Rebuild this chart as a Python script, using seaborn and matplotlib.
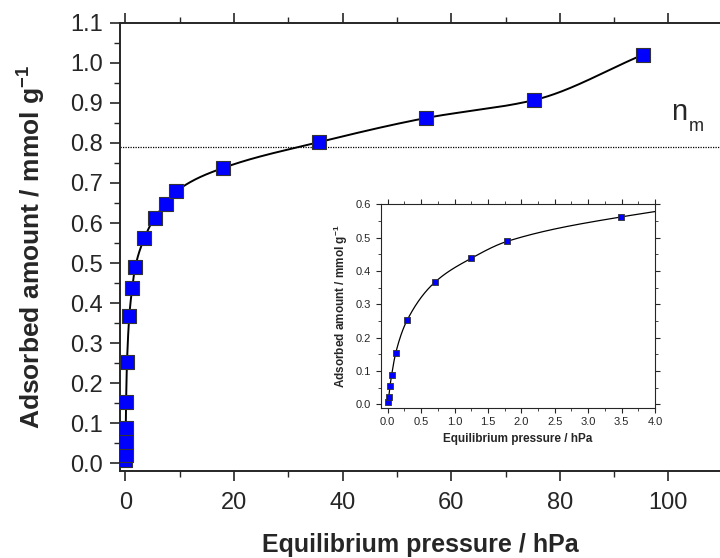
import numpy as np
import pandas as pd
import matplotlib
matplotlib.use("Agg")
import matplotlib.pyplot as plt
import seaborn as sns
from matplotlib.ticker import MultipleLocator

# ---- data ----
pressure_hpa = [0.0, 0.015, 0.034, 0.06, 0.12, 0.29, 0.71, 1.25, 1.79, 3.49,
                5.36, 7.4, 9.35, 17.9, 35.7, 55.3, 75.3, 95.3]
adsorbed_mmol_g = [0.008, 0.022, 0.054, 0.089, 0.154, 0.252, 0.367, 0.438, 0.489, 0.562,
                   0.613, 0.648, 0.679, 0.737, 0.802, 0.862, 0.907, 1.02]
monolayer_nm = 0.79

main_xticks = [0, 20, 40, 60, 80, 100]
main_yticks = [0.0, 0.1, 0.2, 0.3, 0.4, 0.5, 0.6, 0.7, 0.8, 0.9, 1.0, 1.1]
inset_xticks = [0.0, 0.5, 1.0, 1.5, 2.0, 2.5, 3.0, 3.5, 4.0]
inset_yticks = [0.0, 0.1, 0.2, 0.3, 0.4, 0.5, 0.6]

df = pd.DataFrame({"p": pressure_hpa, "n": adsorbed_mmol_g})


def pchip(x, y, xi):
    x = np.asarray(x, float); y = np.asarray(y, float)
    h = np.diff(x); d = np.diff(y) / h
    n = len(x); m = np.zeros(n)
    for k in range(1, n - 1):
        if d[k - 1] * d[k] > 0:
            w1 = 2 * h[k] + h[k - 1]; w2 = h[k] + 2 * h[k - 1]
            m[k] = (w1 + w2) / (w1 / d[k - 1] + w2 / d[k])
    m[0] = d[0]; m[-1] = d[-1]
    idx = np.clip(np.searchsorted(x, xi) - 1, 0, n - 2)
    t = (xi - x[idx]) / h[idx]
    h00 = 2 * t**3 - 3 * t**2 + 1; h10 = t**3 - 2 * t**2 + t
    h01 = -2 * t**3 + 3 * t**2; h11 = t**3 - t**2
    return h00 * y[idx] + h10 * h[idx] * m[idx] + h01 * y[idx + 1] + h11 * h[idx] * m[idx + 1]


xs = np.concatenate([np.linspace(0, 4, 600), np.linspace(4, pressure_hpa[-1], 600)])
curve = pd.DataFrame({"p": xs, "n": pchip(pressure_hpa, adsorbed_mmol_g, xs)})

sns.set_style("ticks")
plt.rcParams["font.family"] = ["Liberation Sans", "DejaVu Sans"]
plt.rcParams["mathtext.fontset"] = "custom"
plt.rcParams["mathtext.rm"] = "Liberation Sans"
plt.rcParams["mathtext.bf"] = "Liberation Sans:bold"

fig = plt.figure(figsize=(7.2, 5.58), dpi=100)
ax = fig.add_axes([120 / 720, 87 / 558, 1 - 120 / 720, (471 - 22.7) / 558])

sns.lineplot(data=curve, x="p", y="n", ax=ax, color="black", lw=1.4,
             estimator=None, sort=False, zorder=2)
sns.scatterplot(data=df, x="p", y="n", ax=ax, marker="s", s=100, color="#0000ff",
                edgecolor="#333333", linewidth=0.8, zorder=3)
ax.axhline(monolayer_nm, color="black", ls=(0, (1, 1)), lw=0.9, zorder=1)
ax.text(100.4, 0.857, "n", fontsize=21, ha="left", va="baseline")
ax.text(103.7, 0.830, "m", fontsize=13, ha="left", va="baseline")

ax.set_xlim(-1.0, 109.5)
ax.set_ylim(-0.019, 1.1)
ax.set_xticks(main_xticks)
ax.set_yticks(main_yticks)
ax.set_yticklabels([f"{v:.1f}" for v in main_yticks])
ax.xaxis.set_minor_locator(MultipleLocator(10))
ax.yaxis.set_minor_locator(MultipleLocator(0.05))
ax.tick_params(axis="both", which="major", labelsize=17, direction="out", length=7, width=1.2)
ax.tick_params(axis="both", which="minor", direction="out", length=4, width=1.0)
ax.tick_params(axis="y", which="major", pad=5)
ax.tick_params(axis="x", which="major", pad=8)
ax.tick_params(axis="x", which="both", top=True)
for s in ["left", "bottom", "top"]:
    ax.spines[s].set_linewidth(1.4)
ax.spines["right"].set_visible(False)
ax.set_xlabel("Equilibrium pressure / hPa", fontsize=18, fontweight="bold", labelpad=14)
ax.set_ylabel(r"Adsorbed amount / mmol g$^{\mathbf{-1}}$", fontsize=19, fontweight="bold", labelpad=17)

# ---- inset ----
ins = fig.add_axes([381 / 720, (558 - 407.7) / 558, 274 / 720, 203.4 / 558])
sns.lineplot(data=curve[curve.p <= 4.05], x="p", y="n", ax=ins, color="black", lw=0.9,
             estimator=None, sort=False, zorder=2)
sns.scatterplot(data=df, x="p", y="n", ax=ins, marker="s", s=22, color="#0000ff",
                edgecolor="#333333", linewidth=0.6, zorder=3)
ins.set_xlim(-0.1, 4.0)
ins.set_ylim(-0.01, 0.6)
ins.set_xticks(inset_xticks)
ins.set_yticks(inset_yticks)
ins.set_xticklabels([f"{v:.1f}" for v in inset_xticks])
ins.set_yticklabels([f"{v:.1f}" for v in inset_yticks])
ins.xaxis.set_minor_locator(MultipleLocator(0.25))
ins.yaxis.set_minor_locator(MultipleLocator(0.05))
ins.tick_params(axis="both", which="major", labelsize=8, direction="out", length=3.5, width=0.8)
ins.tick_params(axis="both", which="minor", direction="out", length=2, width=0.6)
ins.tick_params(axis="both", which="both", top=True, right=True)
for s in ins.spines.values():
    s.set_linewidth(0.8)
ins.set_xlabel("Equilibrium pressure / hPa", fontsize=8.5, fontweight="bold", labelpad=4)
ins.set_ylabel(r"Adsorbed amount / mmol g$^{\mathbf{-1}}$", fontsize=8.5, fontweight="bold", labelpad=4)

fig.savefig("out.png", dpi=100)
